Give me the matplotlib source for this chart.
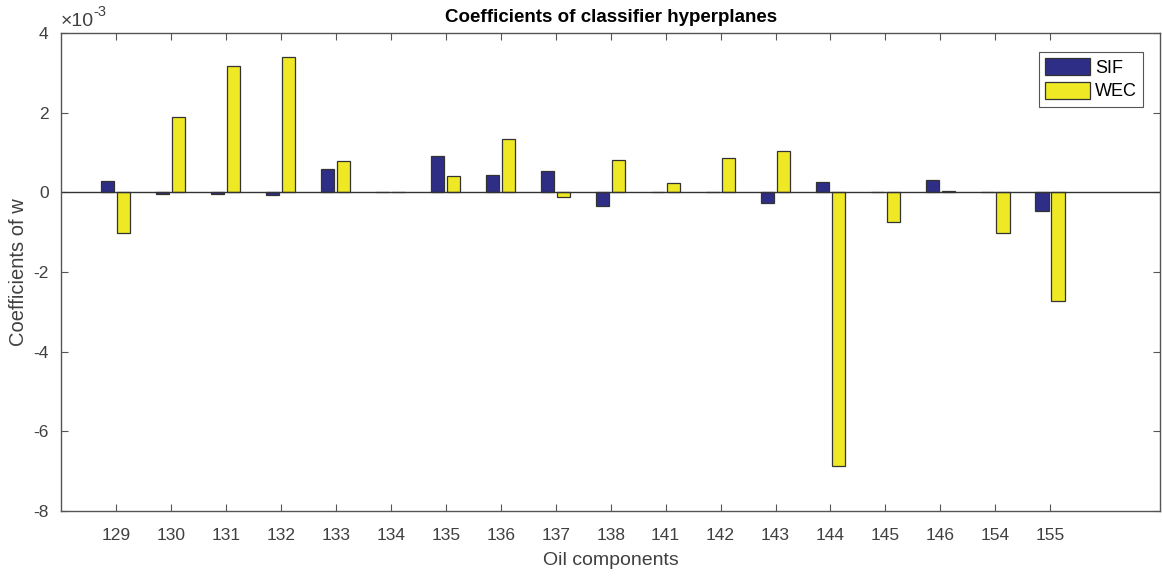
import matplotlib
matplotlib.use('Agg')
import matplotlib.pyplot as plt
import numpy as np
from matplotlib.ticker import FuncFormatter

plt.rcParams['font.family'] = ['Liberation Sans', 'DejaVu Sans']
plt.rcParams['axes.unicode_minus'] = False

components = ['129', '130', '131', '132', '133', '134', '135', '136', '137',
              '138', '141', '142', '143', '144', '145', '146', '154', '155']
sif = np.array([0.28, -0.03, -0.04, -0.06, 0.59, 0.005, 0.92, 0.43, 0.53,
                -0.34, 0.005, 0.005, -0.28, 0.25, 0.005, 0.30, 0.005, -0.46]) * 1e-3
wec = np.array([-1.03, 1.88, 3.16, 3.41, 0.78, 0.005, 0.40, 1.35, -0.11,
                0.80, 0.23, 0.85, 1.05, -6.86, -0.75, 0.03, -1.01, -2.74]) * 1e-3

SIF_COLOR = '#2e2e87'
WEC_COLOR = '#efe825'
AX_COLOR = '#555555'
TXT_COLOR = '#404040'

fig = plt.figure(figsize=(11.62, 5.76), dpi=100)
ax = fig.add_axes([0.0525, 0.1128, 0.946, 0.8299])

x = np.arange(1, len(components) + 1)
w = 0.24
ax.bar(x - 0.15, sif, w, color=SIF_COLOR, edgecolor='#333333', linewidth=0.9, label='SIF')
ax.bar(x + 0.14, wec, w, color=WEC_COLOR, edgecolor='#333333', linewidth=0.9, label='WEC')
ax.axhline(0, color='#333333', linewidth=1.0)

ax.set_xlim(0, 20)
ax.set_ylim(-8e-3, 4e-3)
ax.set_xticks(x)
ax.set_xticklabels(components)
ax.set_yticks(np.arange(-8, 5, 2) * 1e-3)
ax.yaxis.set_major_formatter(FuncFormatter(lambda v, p: '%g' % round(v * 1e3, 6)))

# exponent label like MATLAB: x10^-3
ax.text(0.0, 1.006, '\u00d710', transform=ax.transAxes, fontsize=14,
        color=TXT_COLOR, ha='left', va='bottom')
ax.text(0.0295, 1.03, '-3', transform=ax.transAxes, fontsize=10.5,
        color=TXT_COLOR, ha='left', va='bottom')

ax.tick_params(direction='in', length=5, labelsize=12.5, colors=AX_COLOR,
               labelcolor=TXT_COLOR, top=True, right=True)
ax.tick_params(axis='x', pad=12)
ax.tick_params(axis='y', pad=9)
for s in ax.spines.values():
    s.set_color(AX_COLOR)
    s.set_linewidth(1.0)

ax.set_xlabel('Oil components', fontsize=14, color=TXT_COLOR, labelpad=7)
ax.set_ylabel('Coefficients of w', fontsize=14.5, color=TXT_COLOR, labelpad=4)
ax.set_title('Coefficients of classifier hyperplanes', fontsize=13.5, fontweight='bold', pad=8)

leg = ax.legend(loc='upper right', bbox_to_anchor=(0.9845, 0.961), fontsize=13,
                fancybox=False, framealpha=1, edgecolor=AX_COLOR,
                handlelength=2.45, handleheight=1.05, borderpad=0.35, labelspacing=0.3,
                handletextpad=0.3, borderaxespad=0)
leg.get_frame().set_linewidth(0.8)

plt.savefig('out.png', dpi=100)
